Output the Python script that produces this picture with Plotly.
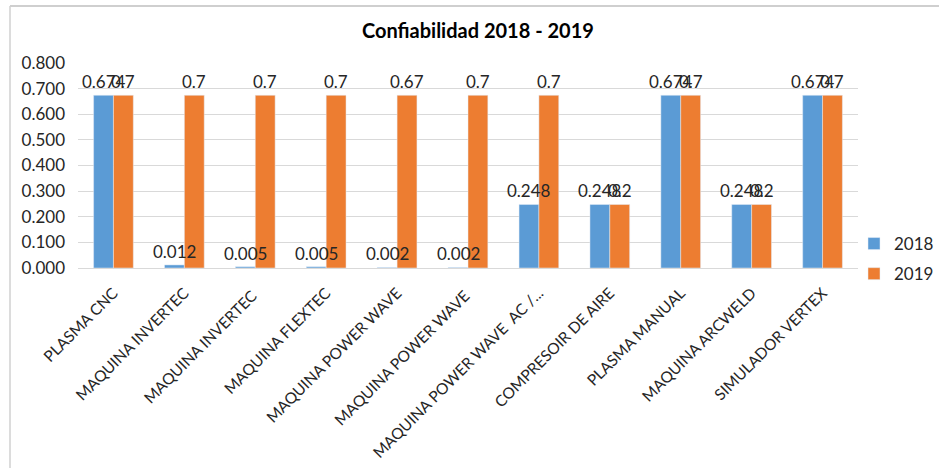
import plotly.graph_objects as go

categories = ["PLASMA CNC", "MAQUINA INVERTEC", "MAQUINA INVERTEC ", "MAQUINA FLEXTEC",
              "MAQUINA POWER WAVE", "MAQUINA POWER WAVE ", "MAQUINA POWER WAVE  AC /...",
              "COMPRESOIR DE AIRE", "PLASMA MANUAL", "MAQUINA ARCWELD", "SIMULADOR VERTEX"]
values_2018 = [0.674, 0.012, 0.005, 0.005, 0.002, 0.002, 0.248, 0.248, 0.674, 0.248, 0.674]
values_2019 = [0.674, 0.674, 0.674, 0.674, 0.674, 0.674, 0.674, 0.248, 0.674, 0.248, 0.674]
labels_2018 = ["0.674", "0.012", "0.005", "0.005", "0.002", "0.002", "0.248", "0.248", "0.674", "0.248", "0.674"]
labels_2019 = ["0.7", "0.7", "0.7", "0.7", "0.67", "0.7", "0.7", "0.2", "0.7", "0.2", "0.7"]
y_ticks = [0.0, 0.1, 0.2, 0.3, 0.4, 0.5, 0.6, 0.7, 0.8]

FONT = "Lato"
W, H = 939, 468
L, R, T, B = 78, 81, 63, 200
PW, PH = W - L - R, H - T - B
BARGAP = 0.44
cat_px = PW / len(categories)
bar_px = cat_px * (1 - BARGAP) / 2


def px(x):
    return (x - L) / PW


def py(y):
    return (H - B - y) / PH


fig = go.Figure()
fig.add_trace(go.Bar(name="2018", x=categories, y=values_2018,
                     marker_color="#5B9BD5", legendgroup="a"))
fig.add_trace(go.Bar(name="2019", x=categories, y=values_2019,
                     marker_color="#ED7D31", legendgroup="b"))

annotations = []
for vals, labs, shift in ((values_2018, labels_2018, -bar_px / 2), (values_2019, labels_2019, bar_px / 2)):
    for c, v, t in zip(categories, vals, labs):
        annotations.append(dict(x=c, y=v, xref="x", yref="y", text=t, showarrow=False,
                                xanchor="center", yanchor="bottom", xshift=shift, yshift=1,
                                font=dict(family=FONT, size=17, color="#262626")))

fig.update_layout(
    width=W, height=H,
    margin=dict(l=L, r=R, t=T, b=B, autoexpand=False),
    paper_bgcolor="white", plot_bgcolor="white",
    font=dict(family=FONT, size=16, color="#262626"),
    barmode="group", bargap=BARGAP, bargroupgap=0,
    title=dict(text="<b>Confiabilidad 2018 - 2019</b>", x=px(475), xanchor="center",
               y=1 - 31 / H, yanchor="middle",
               font=dict(family=FONT, size=20, color="#000000")),
    showlegend=True,
    legend=dict(x=px(854), y=py(226), xanchor="left", yanchor="top",
                font=dict(size=17, color="#262626"), tracegroupgap=5, itemwidth=30,
                traceorder="grouped", bgcolor="rgba(0,0,0,0)"),
    xaxis=dict(tickangle=-45, showgrid=False, showline=True, linecolor="#d9d9d9",
               linewidth=1, ticks="", tickfont=dict(size=15.5, color="#262626"),
               ticklabelstandoff=9, automargin=False),
    yaxis=dict(range=[0, 0.8], tickvals=y_ticks, tickformat=".3f", showgrid=True,
               gridcolor="#d9d9d9", gridwidth=1, zeroline=False, showline=False,
               ticks="", tickfont=dict(size=17, color="#262626"), ticklabelstandoff=12,
               automargin=False),
    annotations=annotations,
    shapes=[
        dict(type="line", xref="paper", yref="paper", x0=px(10), x1=px(939), y0=py(6), y1=py(6),
             line=dict(color="#bfbfbf", width=1.5)),
        dict(type="line", xref="paper", yref="paper", x0=px(10), x1=px(10), y0=py(6), y1=py(468),
             line=dict(color="#d0d0d0", width=1.5)),
    ],
)

fig.write_html("out.html")
